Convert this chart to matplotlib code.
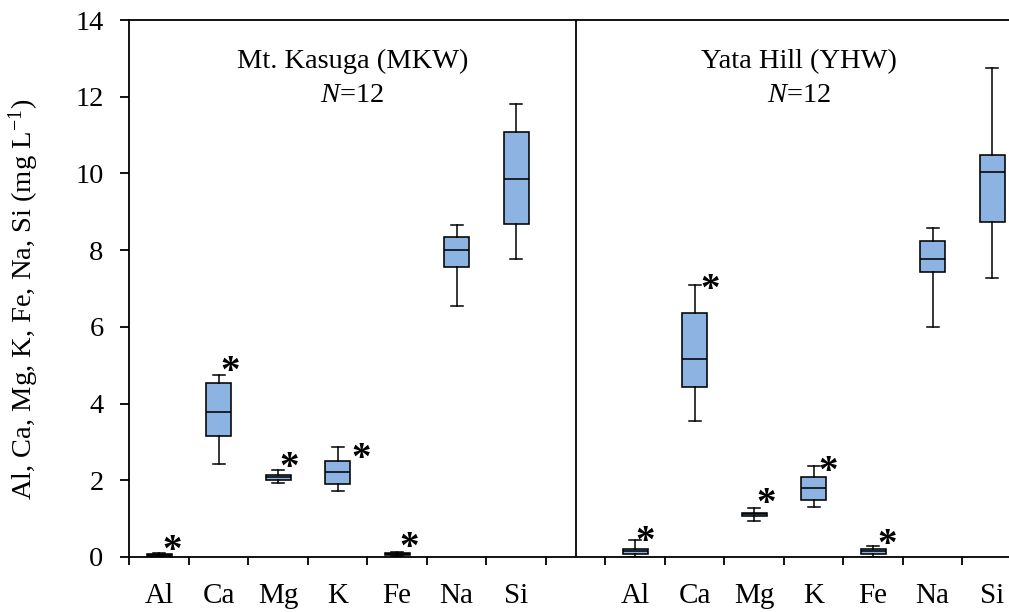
import matplotlib
matplotlib.use("Agg")
import matplotlib.pyplot as plt
from matplotlib.ticker import FixedLocator

plt.rcParams['font.family'] = ['Liberation Serif', 'DejaVu Serif']
plt.rcParams['mathtext.fontset'] = 'custom'
plt.rcParams['mathtext.it'] = 'Liberation Serif:italic'
plt.rcParams['mathtext.rm'] = 'Liberation Serif'
plt.rcParams['mathtext.default'] = 'regular'

elements = ["Al", "Ca", "Mg", "K", "Fe", "Na", "Si"]
sites = ["Mt. Kasuga (MKW)", "Yata Hill (YHW)"]
n_samples = [12, 12]

# box statistics: whisker low, Q1, median, Q3, whisker high (mg/L)
mkw_low = [0.01, 2.42, 1.92, 1.73, 0.03, 6.54, 7.77]
mkw_q1 = [0.03, 3.15, 2.02, 1.90, 0.05, 7.57, 8.67]
mkw_med = [0.05, 3.79, 2.09, 2.22, 0.07, 8.01, 9.85]
mkw_q3 = [0.07, 4.53, 2.14, 2.49, 0.10, 8.33, 11.08]
mkw_high = [0.10, 4.74, 2.27, 2.87, 0.12, 8.65, 11.81]

yhw_low = [0.00, 3.55, 0.93, 1.31, 0.00, 5.99, 7.27]
yhw_q1 = [0.09, 4.44, 1.08, 1.49, 0.09, 7.43, 8.73]
yhw_med = [0.15, 5.16, 1.12, 1.81, 0.15, 7.78, 10.03]
yhw_q3 = [0.21, 6.36, 1.16, 2.09, 0.21, 8.24, 10.49]
yhw_high = [0.44, 7.09, 1.27, 2.37, 0.29, 8.57, 12.76]

# significance asterisks: element index, x offset from box centre, height (mg/L)
mkw_star_idx = [0, 1, 2, 3, 4]
mkw_star_dx = [0.22, 0.20, 0.19, 0.39, 0.21]
mkw_star_y = [0.40, 5.07, 2.57, 2.81, 0.49]
yhw_star_idx = [0, 1, 2, 3, 4]
yhw_star_dx = [0.17, 0.27, 0.21, 0.25, 0.24]
yhw_star_y = [0.63, 7.22, 1.62, 2.46, 0.55]

yticks = [0, 2, 4, 6, 8, 10, 12, 14]

W, H = 1009, 612
fig = plt.figure(figsize=(W / 100, H / 100), dpi=100)
left_px, top_px, bottom_px = 129.3, 20, 557
slot_px = 59.5
n_slots = 15
ax = fig.add_axes([left_px / W, (H - bottom_px) / H,
                   n_slots * slot_px / W, (bottom_px - top_px) / H])

box_color = "#8DB3E2"
group_start = [0, 8]
all_stats = [(mkw_low, mkw_q1, mkw_med, mkw_q3, mkw_high),
             (yhw_low, yhw_q1, yhw_med, yhw_q3, yhw_high)]

centers = []
labels = []
for g, (lo, q1, me, q3, hi) in enumerate(all_stats):
    stats = []
    pos = []
    for i, el in enumerate(elements):
        stats.append(dict(whislo=lo[i], q1=q1[i], med=me[i], q3=q3[i],
                          whishi=hi[i], fliers=[], label=el))
        pos.append(group_start[g] + i + 0.5)
    ax.bxp(stats, positions=pos, widths=0.42, capwidths=0.2,
           patch_artist=True, showfliers=False,
           boxprops=dict(facecolor=box_color, edgecolor="black", linewidth=1.15),
           medianprops=dict(color="black", linewidth=1.15),
           whiskerprops=dict(color="black", linewidth=1.1),
           capprops=dict(color="black", linewidth=1.1),
           manage_ticks=False)
    centers += pos
    labels += elements

star_fs = 28
for g, (idx, dx, sy) in enumerate([(mkw_star_idx, mkw_star_dx, mkw_star_y),
                                    (yhw_star_idx, yhw_star_dx, yhw_star_y)]):
    for i, d, y in zip(idx, dx, sy):
        ax.annotate("*", xy=(group_start[g] + i + 0.5 + d, y),
                    xytext=(0, -0.50 * star_fs), textcoords="offset points",
                    ha="center", va="baseline", fontsize=star_fs,
                    fontweight="bold", annotation_clip=False)

# site titles
for g, site in enumerate(sites):
    xc = 3.75 if g == 0 else 11.25
    ax.text(xc, 12.75, site, ha="center", va="baseline", fontsize=20.5)
    ax.text(xc, 11.86, r"$\mathit{N}$=%d" % n_samples[g], ha="center",
            va="baseline", fontsize=20.5)

ax.axvline(7.5, color="black", linewidth=1.3)

ax.set_xlim(0, n_slots)
ax.set_ylim(0, 14)

major = list(range(0, 15))
ax.xaxis.set_major_locator(FixedLocator(major))
ax.xaxis.set_minor_locator(FixedLocator(centers))
ax.set_xticklabels([], minor=False)
ax.set_xticklabels(labels, minor=True)
ax.tick_params(axis="x", which="major", direction="out", length=6, width=1.3)
ax.tick_params(axis="x", which="minor", length=0, pad=19, labelsize=21)

ax.set_yticks(yticks)
ax.tick_params(axis="y", direction="out", length=6.5, width=1.3, pad=12,
               labelsize=20.5)

for s in ["left", "bottom", "top"]:
    ax.spines[s].set_linewidth(1.3)
ax.spines["right"].set_visible(False)

ax.set_ylabel(r"Al, Ca, Mg, K, Fe, Na, Si (mg L$^{\mathregular{-1}}$)",
              fontsize=20.5)
ax.yaxis.set_label_coords(-0.099, 0.48)

fig.savefig("out.png", dpi=100)
